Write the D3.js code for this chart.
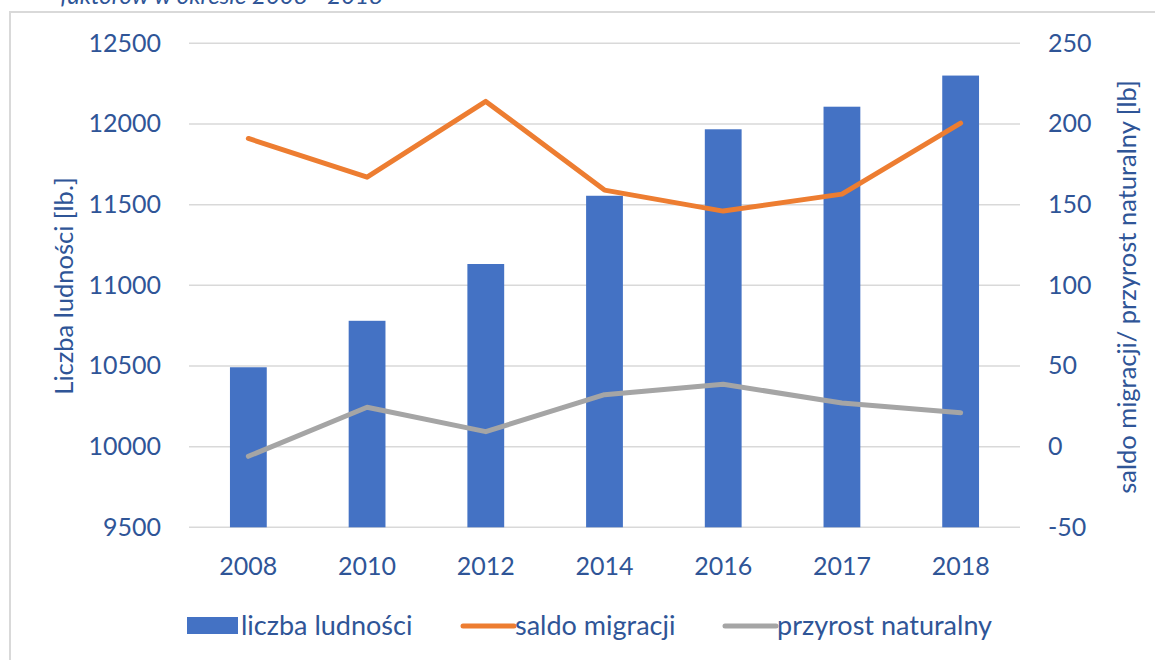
<!DOCTYPE html>
<html>
<head>
<meta charset="utf-8">
<script src="https://cdn.jsdelivr.net/npm/d3@7"></script>
<style>
  body { margin: 0; background: #fff; }
  svg { display: block; font-family: Lato, "Open Sans", sans-serif; }
</style>
</head>
<body>
<div id="chart"></div>
<script>
const years = ['2008', '2010', '2012', '2014', '2016', '2017', '2018'];
const population = [10492, 10780, 11132, 11555, 11967, 12107, 12300];
const migration = [191, 167, 214, 159, 146, 156.5, 200.5];
const naturalGrowth = [-6, 24.4, 9.3, 32.2, 38.7, 27, 21];
const leftTicks = [9500, 10000, 10500, 11000, 11500, 12000, 12500];
const rightTicks = [-50, 0, 50, 100, 150, 200, 250];

const blue = '#4472c4', orange = '#ed7d31', gray = '#a5a5a5';
const textColor = '#2f5597', gridColor = '#d9d9d9';

const W = 1155, H = 660;
const plot = { left: 189, right: 1020, top: 43.3, bottom: 527.3 };

const svg = d3.select('#chart')
    .append('svg')
    .attr('width', W)
    .attr('height', H);

// chart frame (only top and left edges are visible)
svg.append('rect')
    .attr('x', 10)
    .attr('y', 12)
    .attr('width', W + 20)
    .attr('height', H + 20)
    .attr('fill', 'none')
    .attr('stroke', gridColor)
    .attr('stroke-width', 2);

// title, cut off at the top edge as in the source
svg.append('text')
    .attr('x', 383)
    .attr('y', 4)
    .attr('text-anchor', 'end')
    .attr('font-style', 'italic')
    .attr('font-size', 24)
    .attr('fill', textColor)
    .text('faktorów w okresie 2008 - 2018');

const x = d3.scaleBand()
    .domain(years)
    .range([plot.left, plot.right])
    .paddingInner(0.69)
    .paddingOuter(0.345);

const xc = d3.scaleBand()
    .domain(years)
    .range([plot.left, plot.right]);

const yL = d3.scaleLinear()
    .domain([9500, 12500])
    .range([plot.bottom, plot.top]);

const yR = d3.scaleLinear()
    .domain([-50, 250])
    .range([plot.bottom, plot.top]);

// gridlines
svg.append('g')
    .selectAll('line')
    .data(leftTicks)
    .join('line')
    .attr('x1', plot.left)
    .attr('x2', plot.right)
    .attr('y1', d => yL(d))
    .attr('y2', d => yL(d))
    .attr('stroke', gridColor)
    .attr('stroke-width', 1.5);

// bars
svg.append('g')
    .selectAll('rect')
    .data(population)
    .join('rect')
    .attr('x', (d, i) => x(years[i]))
    .attr('width', x.bandwidth())
    .attr('y', d => yL(d))
    .attr('height', d => yL(9500) - yL(d))
    .attr('fill', blue);

const line = d3.line()
    .x((d, i) => xc(years[i]) + xc.bandwidth() / 2)
    .y(d => yR(d));

svg.append('path')
    .datum(naturalGrowth)
    .attr('fill', 'none')
    .attr('stroke', gray)
    .attr('stroke-width', 5)
    .attr('stroke-linejoin', 'round')
    .attr('stroke-linecap', 'round')
    .attr('d', line);

svg.append('path')
    .datum(migration)
    .attr('fill', 'none')
    .attr('stroke', orange)
    .attr('stroke-width', 5)
    .attr('stroke-linejoin', 'round')
    .attr('stroke-linecap', 'round')
    .attr('d', line);

// axes
const styleAxis = g => {
    g.select('.domain').remove();
    g.selectAll('text')
        .attr('fill', textColor)
        .attr('font-size', 25)
        .attr('font-family', 'Lato, sans-serif');
};

svg.append('g')
    .attr('transform', `translate(${plot.left},0)`)
    .call(d3.axisLeft(yL).tickValues(leftTicks).tickSize(0).tickPadding(28).tickFormat(d3.format('d')))
    .call(styleAxis);

svg.append('g')
    .attr('transform', `translate(${plot.right},0)`)
    .call(d3.axisRight(yR).tickValues(rightTicks).tickSize(0).tickPadding(28).tickFormat(d3.format('d')))
    .call(styleAxis)
    .selectAll('text').text(d => d < 0 ? '-' + Math.abs(d) : d);

svg.append('g')
    .attr('transform', `translate(0,${plot.bottom})`)
    .call(d3.axisBottom(xc).tickSize(0).tickPadding(30))
    .call(styleAxis);

// axis titles
svg.append('text')
    .attr('transform', `translate(73,286) rotate(-90)`)
    .attr('text-anchor', 'middle')
    .attr('font-size', 25.5)
    .attr('fill', textColor)
    .text('Liczba ludności [lb.]');

svg.append('text')
    .attr('transform', `translate(1136,287) rotate(-90)`)
    .attr('text-anchor', 'middle')
    .attr('font-size', 25.5)
    .attr('fill', textColor)
    .text('saldo migracji/ przyrost naturalny [lb]');

// legend
const legendItems = [
    { name: 'liczba ludności', color: blue, type: 'rect', x: 187 },
    { name: 'saldo migracji', color: orange, type: 'line', x: 461 },
    { name: 'przyrost naturalny', color: gray, type: 'line', x: 723 }
];

const legend = svg.append('g');
legendItems.forEach(item => {
    const g = legend.append('g').attr('transform', `translate(${item.x},626)`);
    if (item.type === 'rect') {
        g.append('rect')
            .attr('x', 0).attr('y', -9)
            .attr('width', 51).attr('height', 17)
            .attr('fill', item.color);
    } else {
        g.append('line')
            .attr('x1', 2).attr('x2', 53)
            .attr('y1', 0).attr('y2', 0)
            .attr('stroke', item.color)
            .attr('stroke-width', 5)
            .attr('stroke-linecap', 'round');
    }
    g.append('text')
        .attr('x', 54)
        .attr('y', 0)
        .attr('dy', '0.35em')
        .attr('font-size', 27)
        .attr('fill', textColor)
        .text(item.name);
});
</script>
</body>
</html>
